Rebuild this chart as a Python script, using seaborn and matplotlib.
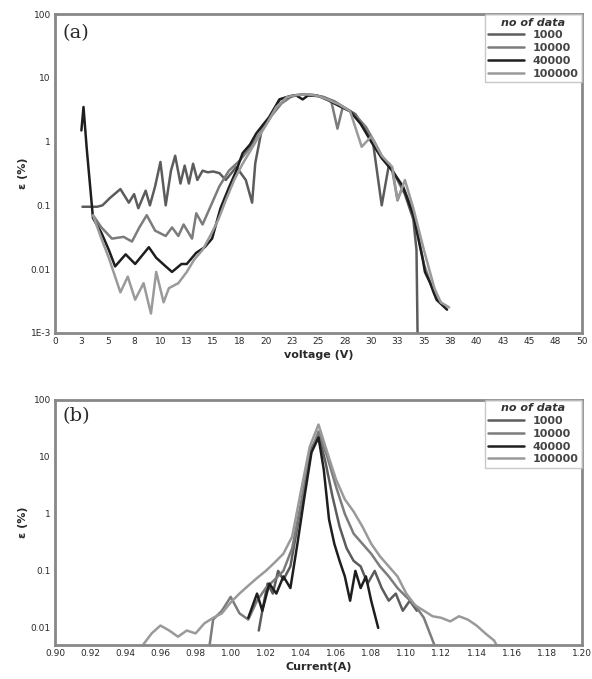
import numpy as np
import pandas as pd
import seaborn as sns
import matplotlib
matplotlib.use("Agg")
import matplotlib.pyplot as plt
from matplotlib.ticker import FixedLocator, NullFormatter, LogLocator

sns.set_theme(style="white")
plt.rcParams['font.family'] = ['DejaVu Sans']

# ---- panel (a): error vs voltage ----
a_series = ["1000", "10000", "40000", "100000"]

a_v_1000 = [2.6, 3.0, 4.0, 4.5, 5.2, 6.2, 7.0, 7.5, 7.9, 8.6, 9.0, 9.5, 10.0, 10.5, 11.0, 11.4,
            11.9, 12.3, 12.7, 13.1, 13.5, 14.0, 14.5, 15.0, 15.6, 16.2, 17.2, 18.1, 18.7, 19.0,
            19.6, 20.3, 21.3, 22.5, 23.5, 24.5, 25.5, 26.5, 27.5, 28.5, 29.5, 30.2, 31.0, 31.7,
            32.5, 33.2, 34.0, 34.3, 34.4]
a_e_1000 = [0.095, 0.095, 0.095, 0.1, 0.13, 0.18, 0.11, 0.15, 0.09, 0.17, 0.1, 0.2, 0.48, 0.1,
            0.35, 0.6, 0.22, 0.42, 0.22, 0.45, 0.25, 0.35, 0.33, 0.34, 0.32, 0.25, 0.4, 0.25,
            0.11, 0.46, 1.5, 2.2, 4.6, 5.3, 5.5, 5.4, 5.0, 4.3, 3.4, 2.7, 1.5, 0.9, 0.1, 0.45,
            0.25, 0.15, 0.06, 0.02, 0.001]

a_v_10000 = [3.6, 4.4, 5.4, 6.5, 7.3, 8.0, 8.7, 9.5, 10.5, 11.1, 11.7, 12.2, 13.0, 13.4, 14.0,
             14.8, 15.6, 16.5, 17.5, 18.5, 19.5, 20.5, 21.5, 22.5, 23.5, 24.5, 25.5, 26.2, 26.8,
             27.3, 28.0, 28.7, 29.5, 30.3, 31.0, 32.0, 32.5, 33.0, 34.0, 35.0, 36.0, 37.0]
a_e_10000 = [0.07, 0.045, 0.03, 0.032, 0.027, 0.045, 0.07, 0.04, 0.033, 0.045, 0.033, 0.05, 0.03,
             0.075, 0.05, 0.1, 0.2, 0.35, 0.5, 0.8, 1.4, 2.5, 4.0, 5.2, 5.5, 5.4, 5.0, 4.4, 1.6,
             3.5, 3.0, 2.4, 1.7, 1.0, 0.6, 0.35, 0.12, 0.2, 0.08, 0.012, 0.004, 0.0025]

a_v_40000 = [2.5, 2.7, 3.0, 3.6, 4.4, 5.1, 5.7, 6.7, 7.6, 8.9, 9.6, 10.5, 11.1, 12.0, 12.5, 13.4,
             14.2, 14.9, 15.7, 16.5, 17.2, 17.8, 18.5, 19.1, 19.8, 20.3, 21.3, 22.0, 22.9, 23.5,
             24.0, 25.0, 26.0, 27.0, 28.0, 29.0, 30.0, 31.0, 32.0, 33.0, 34.0, 34.9, 35.1, 35.6,
             36.2, 37.2]
a_e_40000 = [1.5, 3.5, 0.8, 0.063, 0.037, 0.02, 0.011, 0.017, 0.012, 0.022, 0.015, 0.011, 0.009,
             0.012, 0.012, 0.018, 0.022, 0.03, 0.09, 0.19, 0.35, 0.66, 0.9, 1.35, 1.9, 2.4, 4.6,
             5.0, 5.3, 4.6, 5.3, 5.2, 4.4, 3.6, 3.0, 1.9, 1.0, 0.55, 0.35, 0.2, 0.07, 0.014,
             0.009, 0.006, 0.0033, 0.0023]

a_v_100000 = [3.6, 4.4, 5.1, 5.7, 6.2, 6.9, 7.6, 8.4, 9.1, 9.6, 10.3, 10.8, 11.7, 12.5, 13.2,
              14.0, 14.8, 15.5, 16.2, 17.0, 17.8, 18.5, 19.2, 20.0, 21.0, 22.0, 23.0, 24.0, 25.0,
              26.0, 27.0, 28.0, 29.1, 30.0, 31.0, 32.0, 32.5, 33.2, 34.0, 35.0, 36.0, 36.6, 37.4]
a_e_100000 = [0.07, 0.03, 0.015, 0.0076, 0.0043, 0.0076, 0.0033, 0.006, 0.002, 0.009, 0.003,
              0.005, 0.006, 0.009, 0.014, 0.02, 0.035, 0.06, 0.12, 0.25, 0.45, 0.7, 1.1, 1.8,
              3.5, 5.0, 5.4, 5.5, 5.2, 4.5, 3.8, 3.0, 0.83, 1.2, 0.6, 0.4, 0.12, 0.25, 0.09,
              0.02, 0.005, 0.003, 0.0025]

a_xticks = [0, 2.5, 5, 7.5, 10, 12.5, 15, 17.5, 20, 22.5, 25, 27.5, 30, 32.5, 35, 37.5, 40,
            42.5, 45, 47.5, 50]
a_xticklabels = ["0", "3", "5", "8", "10", "13", "15", "18", "20", "23", "25", "28", "30",
                 "33", "35", "38", "40", "43", "45", "48", "50"]
a_yticks = [1e-3, 1e-2, 1e-1, 1, 10, 100]
a_yticklabels = ["1E-3", "0.01", "0.1", "1", "10", "100"]

# ---- panel (b): error vs current ----
b_i_1000 = [1.016, 1.018, 1.021, 1.024, 1.027, 1.030, 1.034, 1.038, 1.042, 1.046, 1.050, 1.054,
            1.058, 1.062, 1.066, 1.070, 1.074, 1.078, 1.082, 1.086, 1.090, 1.094, 1.098, 1.102,
            1.106]
b_e_1000 = [0.009, 0.02, 0.06, 0.04, 0.1, 0.07, 0.12, 0.6, 3, 14, 25, 8, 2, 0.6, 0.25, 0.15,
            0.12, 0.06, 0.1, 0.05, 0.03, 0.04, 0.02, 0.03, 0.02]

b_i_10000 = [0.988, 0.990, 0.995, 1.000, 1.005, 1.010, 1.015, 1.020, 1.025, 1.030, 1.035, 1.040,
             1.045, 1.050, 1.055, 1.060, 1.065, 1.070, 1.075, 1.080, 1.085, 1.090, 1.095, 1.100,
             1.105, 1.110, 1.116]
b_e_10000 = [0.005, 0.014, 0.02, 0.035, 0.018, 0.014, 0.03, 0.05, 0.07, 0.1, 0.25, 1.5, 10, 28,
             10, 3, 1.0, 0.45, 0.3, 0.2, 0.12, 0.08, 0.05, 0.035, 0.025, 0.015, 0.005]

b_i_40000 = [1.010, 1.015, 1.018, 1.022, 1.026, 1.030, 1.034, 1.038, 1.042, 1.046, 1.050, 1.053,
             1.056, 1.059, 1.062, 1.065, 1.068, 1.071, 1.074, 1.077, 1.080, 1.084]
b_e_40000 = [0.015, 0.04, 0.02, 0.06, 0.04, 0.08, 0.05, 0.3, 2, 12, 22, 6, 0.8, 0.3, 0.15, 0.08,
             0.03, 0.1, 0.05, 0.08, 0.03, 0.01]

b_i_100000 = [0.950, 0.955, 0.960, 0.965, 0.970, 0.975, 0.980, 0.985, 0.990, 0.995, 1.000,
              1.005, 1.010, 1.015, 1.020, 1.025, 1.030, 1.035, 1.040, 1.045, 1.050, 1.055,
              1.060, 1.065, 1.070, 1.075, 1.080, 1.085, 1.090, 1.095, 1.100, 1.105, 1.110,
              1.115, 1.120, 1.125, 1.130, 1.135, 1.140, 1.145, 1.150, 1.153]
b_e_100000 = [0.005, 0.008, 0.011, 0.009, 0.007, 0.009, 0.008, 0.012, 0.015, 0.018, 0.028, 0.04,
              0.055, 0.075, 0.1, 0.14, 0.2, 0.4, 2.5, 15, 37, 12, 4, 1.8, 1.1, 0.6, 0.3, 0.18,
              0.12, 0.08, 0.04, 0.025, 0.02, 0.016, 0.015, 0.013, 0.016, 0.014, 0.011, 0.008,
              0.006, 0.004]

b_xticks = [0.90, 0.92, 0.94, 0.96, 0.98, 1.00, 1.02, 1.04, 1.06, 1.08, 1.10, 1.12, 1.14,
            1.16, 1.18, 1.20]
b_xticklabels = ["0.90", "0.92", "0.94", "0.96", "0.98", "1.00", "1.02", "1.04", "1.06",
                 "1.08", "1.10", "1.12", "1.14", "1.16", "1.18", "1.20"]
b_yticks = [1e-2, 1e-1, 1, 10, 100]
b_yticklabels = ["0.01", "0.1", "1", "10", "100"]

colors = {"1000": "#5c5c5c", "10000": "#7c7c7c", "40000": "#1e1e1e", "100000": "#9a9a9a"}

df_a = pd.concat([
    pd.DataFrame({"x": a_v_1000, "e": a_e_1000, "n": "1000"}),
    pd.DataFrame({"x": a_v_10000, "e": a_e_10000, "n": "10000"}),
    pd.DataFrame({"x": a_v_40000, "e": a_e_40000, "n": "40000"}),
    pd.DataFrame({"x": a_v_100000, "e": a_e_100000, "n": "100000"}),
], ignore_index=True)
df_b = pd.concat([
    pd.DataFrame({"x": b_i_1000, "e": b_e_1000, "n": "1000"}),
    pd.DataFrame({"x": b_i_10000, "e": b_e_10000, "n": "10000"}),
    pd.DataFrame({"x": b_i_40000, "e": b_e_40000, "n": "40000"}),
    pd.DataFrame({"x": b_i_100000, "e": b_e_100000, "n": "100000"}),
], ignore_index=True)

fig = plt.figure(figsize=(5.92, 6.79), dpi=100)
ax1 = fig.add_axes([0.093, 0.510, 0.890, 0.469])
ax2 = fig.add_axes([0.093, 0.050, 0.890, 0.361])

txt = "#2a2a2a"


def style_axis(ax, xticks, xlabels, yticks, ylabels, ylim, xlim, xminor, xlabel, tag):
    ax.set_yscale("log")
    ax.set_ylim(*ylim)
    ax.set_xlim(*xlim)
    ax.set_xticks(xticks)
    ax.set_xticklabels(xlabels)
    ax.xaxis.set_minor_locator(FixedLocator(xminor))
    ax.set_yticks(yticks)
    ax.set_yticklabels(ylabels)
    ax.yaxis.set_minor_locator(LogLocator(base=10, subs=np.arange(2, 10)))
    ax.yaxis.set_minor_formatter(NullFormatter())
    ax.tick_params(axis="both", which="major", direction="in", length=4, width=1.5,
                   labelsize=6.5, colors="#555555", labelcolor=txt, pad=3)
    ax.tick_params(axis="both", which="minor", direction="in", length=2.5, width=1.2,
                   colors="#555555")
    for s in ax.spines.values():
        s.set_color("#888888")
        s.set_linewidth(2.0)
    ax.set_xlabel(xlabel, fontsize=8, fontweight="bold", color=txt, labelpad=3)
    ax.set_ylabel("ε (%)", fontsize=8, fontweight="bold", color=txt, labelpad=2)
    ax.text(0.015, 0.97, tag, transform=ax.transAxes, fontsize=14, color=txt,
            va="top", ha="left", family="serif")
    leg = ax.legend(title="no of data", loc="upper right", borderaxespad=0, fontsize=8,
                    title_fontsize=8, frameon=True, fancybox=False, handlelength=3.2,
                    labelspacing=0.25, borderpad=0.3)
    leg.get_frame().set_edgecolor("#bbbbbb")
    leg.get_frame().set_linewidth(1.0)
    for t in leg.get_texts():
        t.set_fontweight("bold")
        t.set_color("#444444")
    leg.get_title().set_fontweight("bold")
    leg.get_title().set_color("#333333")
    leg.get_title().set_fontstyle("italic")


sns.lineplot(data=df_a, x="x", y="e", hue="n", palette=colors, hue_order=a_series,
             linewidth=1.8, estimator=None, sort=False, ax=ax1)
sns.lineplot(data=df_b, x="x", y="e", hue="n", palette=colors, hue_order=a_series,
             linewidth=1.8, estimator=None, sort=False, ax=ax2)

style_axis(ax1, a_xticks, a_xticklabels, a_yticks, a_yticklabels, (1e-3, 100), (0, 50),
           np.arange(0, 50.1, 1.25), "voltage (V)", "(a)")
style_axis(ax2, b_xticks, b_xticklabels, b_yticks, b_yticklabels, (0.005, 100), (0.90, 1.20),
           np.arange(0.90, 1.2001, 0.01), "Current(A)", "(b)")

fig.savefig("out.png", dpi=100)
